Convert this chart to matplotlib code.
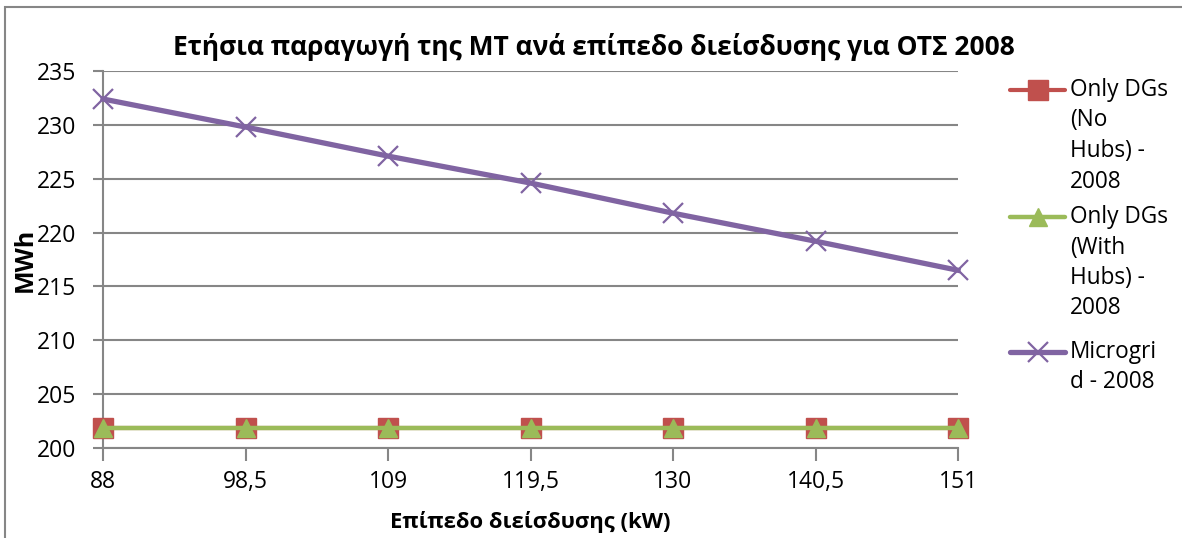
import matplotlib
matplotlib.use("Agg")
import matplotlib.pyplot as plt
from matplotlib.lines import Line2D
from matplotlib.patches import Rectangle

plt.rcParams['font.family'] = ['Open Sans', 'DejaVu Sans']

# Penetration levels (kW) shown as categories
categories = ["88", "98,5", "109", "119,5", "130", "140,5", "151"]

# Annual MT production (MWh)
only_dgs_no_hubs = [201.9, 201.9, 201.9, 201.9, 201.9, 201.9, 201.9]
only_dgs_with_hubs = [201.9, 201.9, 201.9, 201.9, 201.9, 201.9, 201.9]
microgrid = [232.4, 229.8, 227.1, 224.6, 221.8, 219.2, 216.5]

series_labels = ["Only DGs\n(No\nHubs) -\n2008",
                 "Only DGs\n(With\nHubs) -\n2008",
                 "Microgri\nd - 2008"]

title = "Ετήσια παραγωγή της ΜΤ ανά επίπεδο διείσδυσης για ΟΤΣ 2008"
xlabel = "Επίπεδο διείσδυσης (kW)"
ylabel = "MWh"

RED = "#C0504D"
GREEN = "#9BBB59"
PURPLE = "#8064A2"
GRID = "#868686"

W, H = 1182, 538
fig = plt.figure(figsize=(W / 100, H / 100), dpi=100)

# outer chart frame
fig.patches.append(Rectangle((5 / W, -0.1), 1.2, 1 - 7 / H + 0.1,
                             transform=fig.transFigure, fill=False,
                             edgecolor=GRID, linewidth=1.5))

ax = fig.add_axes([103 / W, 1 - 448 / H, (958 - 103) / W, (448 - 71) / H])

x = list(range(len(categories)))
ax.plot(x, only_dgs_no_hubs, color=RED, lw=3, marker="s", ms=14,
        mfc=RED, mec=RED, zorder=3, clip_on=False)
ax.plot(x, only_dgs_with_hubs, color=GREEN, lw=3.2, marker="^", ms=12.5,
        mfc=GREEN, mec=GREEN, zorder=4, clip_on=False)
ax.plot(x, microgrid, color=PURPLE, lw=3.8, marker="x", ms=14, mew=1.6,
        mec=PURPLE, zorder=5, clip_on=False)

ax.set_xlim(0, len(categories) - 1)
ax.set_ylim(200, 235)
ax.set_xticks(x)
ax.set_xticklabels(categories)
ax.set_yticks(range(200, 236, 5))

ax.grid(axis="y", color=GRID, lw=1.5)
ax.set_axisbelow(True)
for side in ("top", "right"):
    ax.spines[side].set_visible(False)
for side in ("left", "bottom"):
    ax.spines[side].set_color(GRID)
    ax.spines[side].set_linewidth(1.5)
ax.tick_params(axis="both", colors=GRID, width=1.5, labelcolor="black",
               labelsize=16.5)
ax.tick_params(axis="y", length=7, pad=12)
ax.tick_params(axis="x", length=9, pad=7)

ax.set_xlabel(xlabel, fontsize=15.8, fontweight="bold", labelpad=12)
fig.text(25 / W, 1 - 260 / H, ylabel, rotation=90, fontsize=18,
         fontweight="bold", ha="center", va="center")

fig.text(594 / W, 1 - 47 / H, title, fontsize=19, fontweight="bold",
         ha="center", va="center")

# legend drawn at the right of the plot
legend_rows = [(RED, "s", 14, 3, 0), (GREEN, "^", 12.5, 3.2, 0), (PURPLE, "x", 14, 3.8, 1.6)]
legend_y = [90, 217, 352]
line_gap = 30.5
for (col, mk, ms, lw, mew), ly, lab in zip(legend_rows, legend_y, series_labels):
    yf = 1 - ly / H
    fig.add_artist(Line2D([1010 / W, 1065 / W], [yf, yf], color=col, lw=lw,
                          transform=fig.transFigure, solid_capstyle="round"))
    fig.add_artist(Line2D([1037.5 / W], [yf], color=col, marker=mk, ms=ms,
                          mfc=col, mec=col, mew=mew if mew else 1,
                          transform=fig.transFigure))
    for i, line in enumerate(lab.split("\n")):
        fig.text(1070 / W, 1 - (ly + i * line_gap) / H, line, fontsize=16.3,
                 ha="left", va="center")

fig.savefig("out.png", dpi=100)
